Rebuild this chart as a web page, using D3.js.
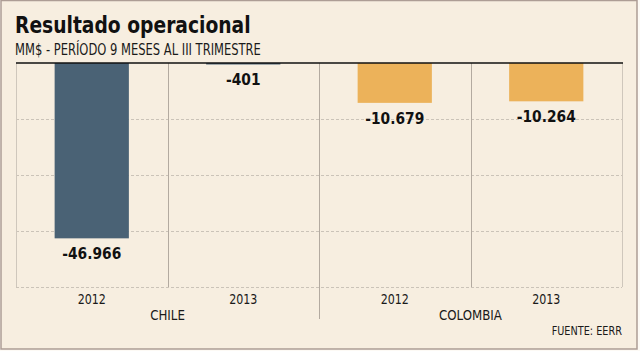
<!DOCTYPE html>
<html><head><meta charset="utf-8">
<script src="https://cdn.jsdelivr.net/npm/d3@7"></script>
<style>
html,body{margin:0;padding:0;background:#fff;}
svg{display:block;}
text{font-family:"DejaVu Sans Condensed","DejaVu Sans",sans-serif;font-stretch:condensed;}
</style></head>
<body>
<svg id="c" width="640" height="351"></svg>
<script>
const countries = ["CHILE", "CHILE", "COLOMBIA", "COLOMBIA"];
const years = ["2012", "2013", "2012", "2013"];
const values = [-46966, -401, -10679, -10264];
const groups = ["CHILE", "COLOMBIA"];
const yTicks = [0, -15000, -30000, -45000, -60000];
const title = "Resultado operacional";
const subtitle = "MM$ - PERÍODO 9 MESES AL III TRIMESTRE";
const source = "FUENTE: EERR";

(function () {
const colors = {CHILE: "#4a6275", COLOMBIA: "#ecb25a"};
const loc = d3.formatLocale({decimal: ",", thousands: ".", grouping: [3], currency: ["$", ""], minus: "-"});
const fmt = loc.format(",d");

const svg = d3.select("#c");
svg.append("rect").attr("x", 0).attr("y", 0).attr("width", 640).attr("height", 351).attr("fill", "#fdfaf5");
svg.append("rect").attr("x", 1).attr("y", 0.5).attr("width", 636).attr("height", 348.5)
  .attr("fill", "#f7eee0").attr("stroke", "#ad9d95").attr("stroke-width", 1.5);

const pL = 16, pR = 622, pT = 63, pB = 287;
const idx = values.map((d, i) => i);
const x = d3.scaleBand().domain(idx).range([pL, pR]);
const xg = d3.scaleBand().domain(groups).range([pL, pR]);
const y = d3.scaleLinear().domain([0, -60000]).range([pT, pB]);

const place = (sel, fx, fy, sx) => sel.attr("transform", (d, i) => `translate(${fx(d, i)},${fy(d, i)}) scale(${sx},1)`);

svg.append("g").selectAll("line").data(yTicks.filter(t => t !== 0)).join("line")
  .attr("x1", pL).attr("x2", pR)
  .attr("y1", d => Math.round(y(d)) + 0.5).attr("y2", d => Math.round(y(d)) + 0.5)
  .attr("stroke", "#cbc3b8").attr("stroke-dasharray", "3,2");

const bounds = idx.map(i => x(i)).concat([pR]);
svg.append("g").selectAll("line").data(bounds).join("line")
  .attr("x1", d => Math.round(d) + 0.5).attr("x2", d => Math.round(d) + 0.5)
  .attr("y1", pT).attr("y2", (d, i) => (i === 2 ? 319 : pB))
  .attr("stroke", (d, i) => (i === 0 || i === 4 ? "#cfc7bc" : "#b3aaa0")).attr("stroke-width", 1);

const bw = x.bandwidth() * 0.49;
svg.append("g").selectAll("rect").data(values).join("rect")
  .attr("x", (d, i) => x(i) + (x.bandwidth() - bw) / 2)
  .attr("y", y(0))
  .attr("width", bw)
  .attr("height", d => y(d) - y(0))
  .attr("fill", (d, i) => colors[countries[i]]);

svg.append("line").attr("x1", pL).attr("x2", pR + 1).attr("y1", y(0)).attr("y2", y(0))
  .attr("stroke", "#111").attr("stroke-width", 1.5);

place(svg.append("g").selectAll("text").data(values).join("text"),
  (d, i) => x(i) + x.bandwidth() / 2, d => y(d) + 21, 0.93)
  .attr("text-anchor", "middle")
  .attr("font-size", 16.5).attr("font-weight", "bold").attr("fill", "#111")
  .text(d => fmt(d));

place(svg.append("g").selectAll("text").data(years).join("text"),
  (d, i) => x(i) + x.bandwidth() / 2, () => 304, 0.88)
  .attr("text-anchor", "middle").attr("font-size", 14).attr("fill", "#1a1a1a")
  .text(d => d);

place(svg.append("g").selectAll("text").data(groups).join("text"),
  d => xg(d) + xg.bandwidth() / 2, () => 320, 0.94)
  .attr("text-anchor", "middle").attr("font-size", 14).attr("fill", "#1a1a1a")
  .text(d => d);

place(svg.append("text"), () => 15, () => 33, 0.885).attr("font-size", 23.5).attr("font-weight", "bold")
  .attr("fill", "#111").text(title);
place(svg.append("text"), () => 15, () => 55, 0.855).attr("font-size", 15).attr("fill", "#1a1a1a").text(subtitle);
place(svg.append("text"), () => pR, () => 335, 0.94).attr("text-anchor", "end").attr("font-size", 11.5)
  .attr("fill", "#1a1a1a").text(source);
})();
</script>
</body></html>
